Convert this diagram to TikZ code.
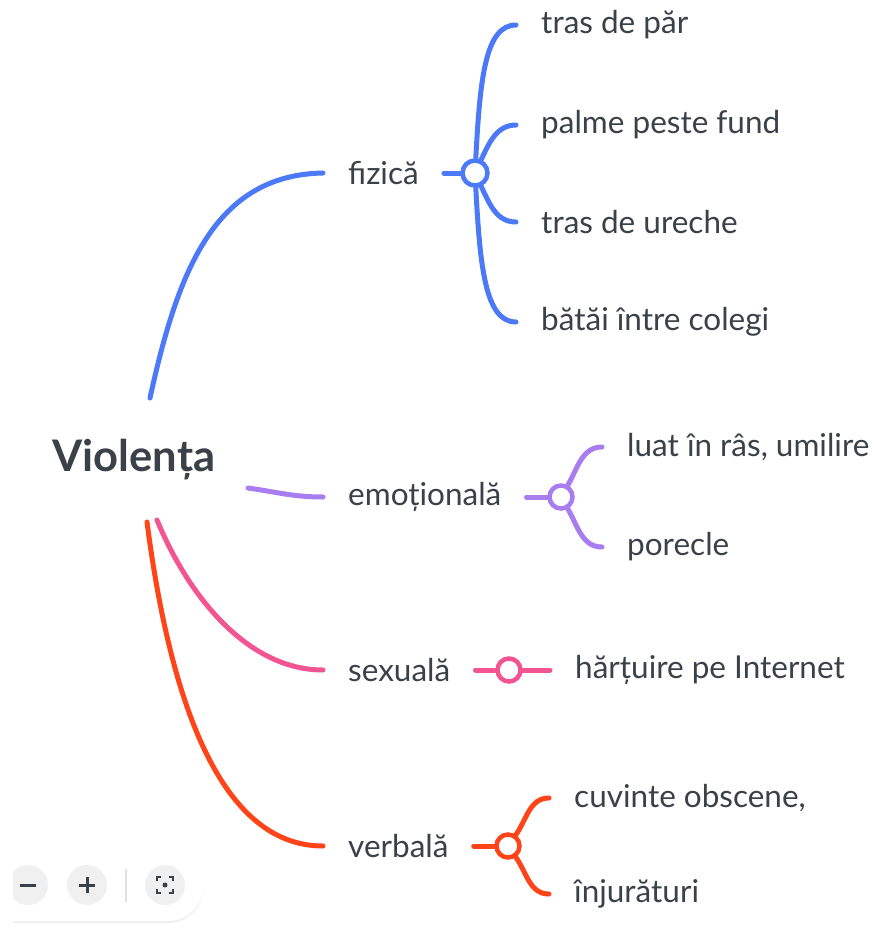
\documentclass[tikz,border=0pt]{standalone}
\usepackage{fontspec}
\setmainfont{Lato}
\usepackage{tikz}
\usetikzlibrary{positioning,shadows}
\definecolor{fizblue}{RGB}{75,121,247}
\definecolor{emopurple}{RGB}{168,125,240}
\definecolor{sexpink}{RGB}{242,85,145}
\definecolor{verred}{RGB}{255,68,25}
\definecolor{textgray}{RGB}{59,65,72}

\begin{document}
\begin{tikzpicture}[x=1pt, y=1pt,
    txt/.style={font=\fontsize{31.5}{36}\selectfont, text=textgray, inner xsep=25pt, inner ysep=0pt, anchor=west},
    branch/.style={line width=5pt, line cap=round, draw=#1},
    hub/.style={circle, draw=#1, fill=white, line width=4.5pt, minimum size=23pt, inner sep=0pt},
    btn/.style={circle, fill=black!6, minimum size=40pt, inner sep=0pt}]
    \useasboundingbox[fill=white] (0,0) rectangle (874,-937);

    % centre and main branches
    \node[font=\bfseries\fontsize{43.5}{50}\selectfont, text=textgray] (root) at (134,-460) {Violența};
    \coordinate (rootF) at (150,-398);
    \coordinate (rootE) at (248,-488);
    \coordinate (rootS) at (157,-520);
    \coordinate (rootV) at (147,-522);

    \node[txt] (fizica) at (323,-173) {fizică};
    \node[txt] (emotionala) at (323,-497) {emoțională};
    \node[txt] (sexuala) at (323,-670) {sexuală};
    \node[txt] (verbala) at (323,-846) {verbală};

    \node[hub=fizblue, minimum size=25pt] (hubF) at (475,-173) {};
    \node[hub=emopurple] (hubE) at (561,-497) {};
    \node[hub=sexpink] (hubS) at (509,-670) {};
    \node[hub=verred] (hubV) at (508,-846) {};

    % leaves
    \node[txt] (par) at (516,-25) {tras de păr};
    \node[txt] (palme) at (516,-125) {palme peste fund};
    \node[txt] (ureche) at (516,-222) {tras de ureche};
    \node[txt] (batai) at (516,-322) {bătăi între colegi};
    \node[txt] (luat) at (602,-447) {luat în râs, umilire};
    \node[txt] (porecle) at (602,-547) {porecle};
    \node[txt] (hartuire) at (550,-670) {hărțuire pe Internet};
    \node[txt] (cuvinte) at (549,-798) {cuvinte obscene,};
    \node[txt] (injuraturi) at (549,-894) {înjurături};

    \draw[branch=fizblue] (rootF) .. controls (178,-270) and (215,-175) .. (fizica.west);
    \draw[branch=emopurple] (rootE) to[out=-8, in=180] (emotionala.west);
    \draw[branch=sexpink] (rootS) .. controls (190,-600) and (250,-670) .. (sexuala.west);
    \draw[branch=verred] (rootV) .. controls (170,-700) and (220,-846) .. (verbala.west);

    \draw[branch=fizblue] (fizica) -- (hubF);
    \draw[branch=emopurple] (emotionala) -- (hubE);
    \draw[branch=sexpink] (sexuala) -- (hubS);
    \draw[branch=verred] (verbala) -- (hubV);

    \draw[branch=fizblue] (hubF) .. controls (480,-80) and (485,-25) .. (par.west);
    \draw[branch=fizblue] (hubF) to[out=65, in=180] (palme.west);
    \draw[branch=fizblue] (hubF) to[out=-65, in=180] (ureche.west);
    \draw[branch=fizblue] (hubF) .. controls (480,-266) and (485,-322) .. (batai.west);
    \draw[branch=emopurple] (hubE) to[out=60, in=180] (luat.west);
    \draw[branch=emopurple] (hubE) to[out=-60, in=180] (porecle.west);
    \draw[branch=sexpink] (hubS) -- (hartuire.west);
    \draw[branch=verred] (hubV) to[out=55, in=180] (cuvinte.west);
    \draw[branch=verred] (hubV) to[out=-55, in=180] (injuraturi.west);

    % zoom panel, cut at the left edge
    \begin{scope}
        \clip (13,-840) rectangle (230,-937);
        \fill[white, rounded corners=36pt, drop shadow={opacity=0.12, shadow xshift=0pt, shadow yshift=-2pt}]
            (-40,-850) rectangle (204,-921);
        \node[btn] (minus) at (28,-885) {};
        \draw[textgray, line width=3pt] (20,-885) -- (36,-885);
    \end{scope}
    \node[btn] (plus) at (87,-885) {};
    \draw[textgray, line width=3pt] (79,-885) -- (95,-885) (87,-877) -- (87,-893);
    \draw[black!12, line width=1.2pt] (126,-869) -- (126,-902);
    \node[btn] (focus) at (165,-885) {};
    \begin{scope}[textgray, line width=2pt]
        \draw (157,-881) -- (157,-877) -- (161,-877);
        \draw (169,-877) -- (173,-877) -- (173,-881);
        \draw (157,-889) -- (157,-893) -- (161,-893);
        \draw (169,-893) -- (173,-893) -- (173,-889);
        \fill (165,-885) circle (2.5pt);
    \end{scope}
\end{tikzpicture}
\end{document}
